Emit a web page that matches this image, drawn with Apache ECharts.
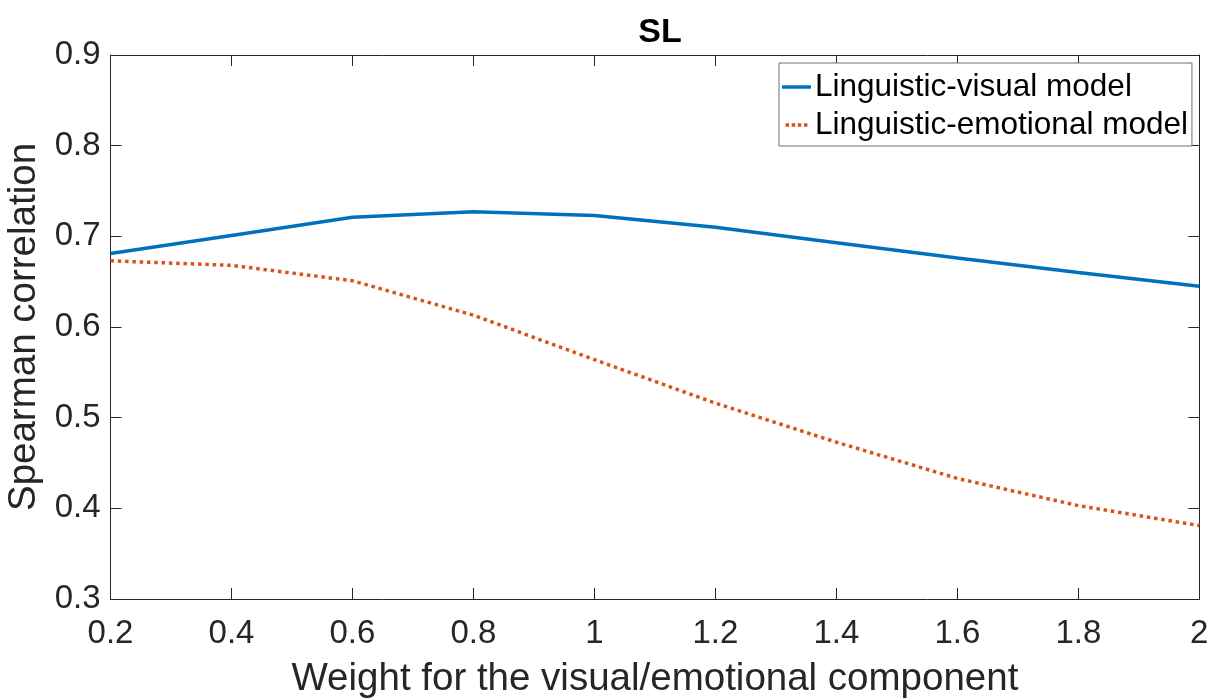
<!DOCTYPE html>
<html>
<head>
<meta charset="utf-8">
<script src="https://cdn.jsdelivr.net/npm/echarts@6/dist/echarts.min.js"></script>
<style>
html,body{margin:0;padding:0;background:#fff;}
#chart{width:1218px;height:698px;}
</style>
</head>
<body>
<div id="chart"></div>
<script>
const weights = [0.2, 0.4, 0.6, 0.8, 1.0, 1.2, 1.4, 1.6, 1.8, 2.0];
const visualModel = [0.681, 0.701, 0.721, 0.727, 0.723, 0.710, 0.693, 0.676, 0.660, 0.645];
const emotionalModel = [0.673, 0.668, 0.651, 0.613, 0.564, 0.516, 0.473, 0.433, 0.403, 0.381];
const seriesNames = ['Linguistic-visual model', 'Linguistic-emotional model'];
const titleText = 'SL';
const xName = 'Weight for the visual/emotional component';
const yName = 'Spearman correlation';

const FONT = '"Liberation Sans", Arial, Helvetica, sans-serif';
const TXT = '#262626';
const BLUE = '#0072BD';
const ORANGE = '#D95319';
const chart = echarts.init(document.getElementById('chart'), null, {renderer: 'canvas'});

const pairs = (xs, ys) => xs.map((x, i) => [x, ys[i]]);
const fmt = v => String(+(+v).toFixed(1));

const axisCommon = {
  axisLine: {show: true, lineStyle: {color: TXT, width: 1}},
  axisTick: {show: true, inside: true, length: 11, lineStyle: {color: TXT, width: 1}},
  splitLine: {show: false}
};

chart.setOption({
  animation: false,
  backgroundColor: '#fff',
  title: {
    text: titleText, left: 655, top: 11, textAlign: 'center',
    textStyle: {fontFamily: FONT, fontSize: 34, fontWeight: 'bold', color: '#000'}
  },
  grid: {left: 110.5, top: 55, right: 18.7, bottom: 99, containLabel: false, outerBoundsMode: 'none'},
  legend: {
    left: 779, top: 63, orient: 'vertical',
    padding: [5, 4, 2, 3],
    itemGap: 0, itemWidth: 29, itemHeight: 3.5,
    backgroundColor: '#fff', borderColor: '#6e6e6e', borderWidth: 1,
    textStyle: {fontFamily: FONT, fontSize: 31.5, color: '#000', lineHeight: 38, padding: [0, 0, 0, -1]},
    data: [
      {name: seriesNames[0], icon: 'rect', itemStyle: {color: BLUE}},
      {name: seriesNames[1], icon: 'path://M0,0h4v4h-4zM7,0h4v4h-4zM14,0h4v4h-4zM21,0h4v4h-4z', itemStyle: {color: ORANGE}}
    ]
  },
  xAxis: [
    Object.assign({}, axisCommon, {
      type: 'value', min: 0.2, max: 2, interval: 0.2, position: 'bottom',
      name: xName, nameLocation: 'middle', nameGap: 61,
      nameTextStyle: {fontFamily: FONT, fontSize: 38.5, color: TXT},
      axisLabel: {formatter: fmt, fontFamily: FONT, fontSize: 33, color: TXT, margin: 18}
    }),
    Object.assign({}, axisCommon, {
      type: 'value', min: 0.2, max: 2, interval: 0.2, position: 'top',
      axisLabel: {show: false}
    })
  ],
  yAxis: [
    Object.assign({}, axisCommon, {
      type: 'value', min: 0.3, max: 0.9, interval: 0.1, position: 'left',
      name: yName, nameLocation: 'middle', nameGap: 64,
      nameTextStyle: {fontFamily: FONT, fontSize: 38.5, color: TXT},
      axisLabel: {formatter: fmt, fontFamily: FONT, fontSize: 33, color: TXT, margin: 10}
    }),
    Object.assign({}, axisCommon, {
      type: 'value', min: 0.3, max: 0.9, interval: 0.1, position: 'right',
      axisLabel: {show: false}
    })
  ],
  series: [
    {
      name: seriesNames[0], type: 'line', data: pairs(weights, visualModel),
      symbol: 'none', showSymbol: false, smooth: false,
      lineStyle: {color: BLUE, width: 3.5},
      itemStyle: {color: BLUE}
    },
    {
      name: seriesNames[1], type: 'line', data: pairs(weights, emotionalModel),
      symbol: 'none', showSymbol: false, smooth: false,
      lineStyle: {color: ORANGE, width: 3.5, type: [3.5, 3.8], cap: 'butt'},
      itemStyle: {color: ORANGE}
    }
  ]
});
</script>
</body>
</html>
